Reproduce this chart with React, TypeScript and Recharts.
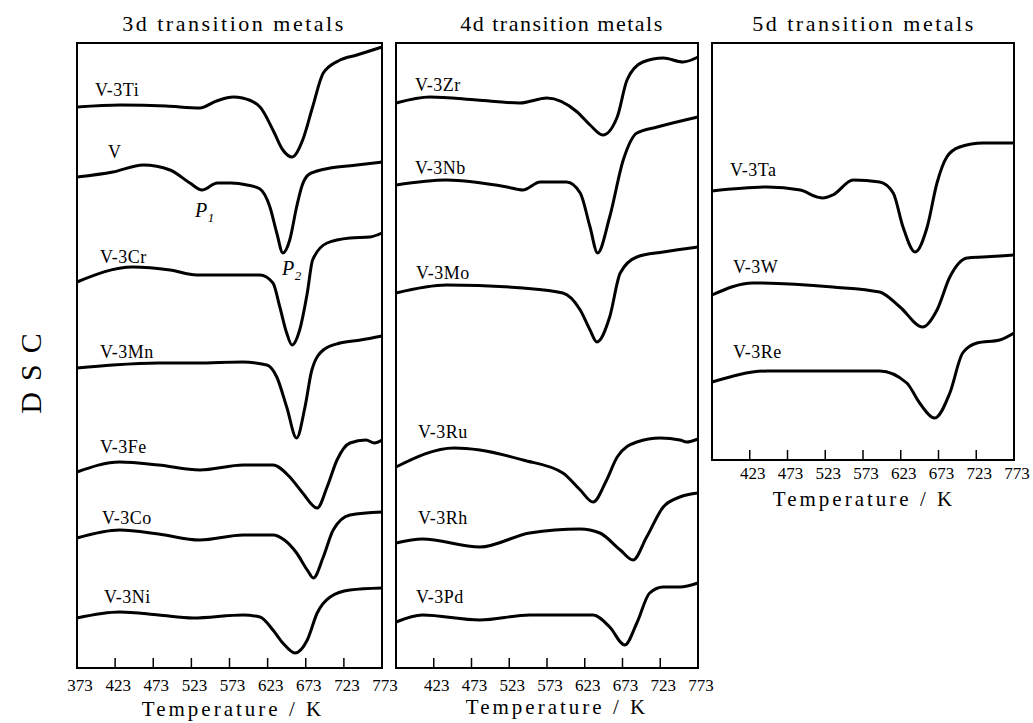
import React from "react"
import { LineChart, Line, XAxis, YAxis, ReferenceArea } from "recharts"

// temperature ticks (K)
const ticksFull = [373, 423, 473, 523, 573, 623, 673, 723, 773]
const ticksShort = [423, 473, 523, 573, 623, 673, 723, 773]

// DSC traces, arbitrary units (offset traces)
// 3d transition metals
const tTi = [373, 430, 490, 534, 556, 578, 590, 613, 630, 643, 655, 669, 682, 696, 718, 740, 773]
const dTi = [561, 563, 562, 560, 567, 571, 570, 561, 538, 518, 511, 528, 561, 595, 608, 613, 621]
const tV = [373, 420, 460, 495, 521, 537, 557, 575, 596, 613, 626, 635, 643, 652, 661, 668, 676, 688, 705, 740, 773]
const dV = [491, 496, 503, 498, 485, 478, 485, 485, 483, 479, 461, 435, 415, 428, 461, 482, 493, 497, 500, 503, 506]
const tCr = [373, 446, 495, 530, 613, 630, 639, 648, 655, 665, 675, 682, 701, 731, 757, 773]
const dCr = [386, 401, 398, 393, 393, 385, 361, 335, 323, 338, 375, 408, 425, 430, 431, 435]
const tMn = [373, 420, 480, 530, 590, 622, 635, 648, 661, 672, 681, 696, 718, 745, 773]
const dMn = [300, 303, 305, 305, 306, 303, 291, 261, 230, 261, 298, 318, 325, 328, 332]
const tFe = [373, 429, 480, 534, 591, 630, 652, 669, 688, 701, 714, 731, 752, 763, 773]
const dFe = [196, 206, 203, 198, 203, 203, 191, 175, 160, 181, 208, 225, 228, 225, 228]
const tCo = [373, 429, 480, 534, 591, 630, 645, 661, 675, 683, 696, 709, 731, 773]
const dCo = [130, 138, 134, 128, 133, 133, 128, 115, 98, 90, 111, 138, 153, 156]
const tNi = [373, 429, 480, 525, 591, 613, 630, 643, 659, 675, 688, 705, 731, 773]
const dNi = [50, 56, 53, 50, 53, 51, 38, 25, 15, 28, 55, 71, 78, 80]

// 4d transition metals
const tZr = [373, 418, 480, 537, 573, 613, 630, 647, 666, 679, 700, 727, 753, 773]
const dZr = [565, 571, 568, 565, 570, 556, 543, 533, 551, 588, 606, 610, 606, 611]
const tNb = [373, 440, 520, 541, 564, 599, 617, 630, 640, 656, 674, 692, 719, 773]
const dNb = [483, 488, 481, 478, 486, 486, 475, 441, 415, 451, 508, 535, 541, 551]
const tMo = [373, 440, 541, 594, 617, 630, 639, 656, 670, 692, 727, 773]
const dMo = [375, 383, 380, 375, 358, 338, 326, 351, 395, 411, 416, 421]
const tRu = [373, 450, 484, 541, 594, 617, 634, 652, 666, 692, 723, 749, 758, 773]
const dRu = [201, 220, 218, 208, 195, 178, 166, 188, 211, 226, 230, 228, 226, 229]
const tRh = [373, 408, 484, 550, 617, 643, 670, 687, 705, 727, 749, 773]
const dRh = [125, 129, 121, 135, 139, 135, 118, 108, 131, 161, 171, 175]
const tPd = [373, 408, 484, 550, 634, 656, 676, 692, 709, 727, 749, 773]
const dPd = [46, 53, 48, 53, 53, 41, 23, 45, 75, 81, 81, 85]

// 5d transition metals
const tTa = [373, 446, 490, 512, 520, 533, 560, 595, 613, 626, 642, 658, 671, 684, 701, 732, 773]
const dTa = [269, 273, 270, 263, 262, 265, 280, 278, 267, 233, 208, 233, 277, 303, 313, 317, 317]
const tW = [373, 427, 533, 595, 622, 652, 671, 688, 711, 732, 773]
const dW = [165, 177, 173, 168, 153, 133, 150, 183, 202, 203, 205]
const tRe = [373, 446, 595, 631, 648, 668, 688, 705, 724, 754, 773]
const dRe = [78, 89, 89, 77, 57, 42, 67, 107, 117, 120, 127]

const pts = (t: number[], d: number[]) => t.map((x, i) => ({ t: x, dsc: d[i] }))

const FONT = '"Liberation Serif", "Times New Roman", serif'

const InTick = (props: any) => {
  const { x, y, payload, dy } = props
  const v = payload.value
  return (
    <g>
      {v > 373 && v < 773 && <line x1={x} x2={x} y1={y} y2={y - 10} stroke="#000" strokeWidth={1.5} />}
      <text x={x + 3} y={y + dy} textAnchor="middle" fontFamily={FONT} fontSize={17} fill="#000">
        {v}
      </text>
    </g>
  )
}

const M = 5
const AXIS_H = 40

function Panel({ left, top, w, h, ymax, ticks, series, tickDy = 23 }: any) {
  return (
    <div style={{ position: "absolute", left: left - M, top: top - M }}>
      <LineChart width={w + 2 * M} height={h + 2 * M + AXIS_H} margin={{ top: M, right: M, bottom: M, left: M }}>
        <XAxis
          type="number"
          dataKey="t"
          domain={[373, 773]}
          ticks={ticks}
          tick={<InTick dy={tickDy} />}
          tickLine={false}
          tickSize={0}
          tickMargin={0}
          axisLine={false}
          height={AXIS_H}
          interval={0}
          allowDuplicatedCategory={false}
        />
        <YAxis type="number" domain={[0, ymax]} hide />
        <ReferenceArea x1={373} x2={773} y1={0} y2={ymax} fill="none" stroke="#000" strokeWidth={2} ifOverflow="visible" />
        {series.map((s: any, i: number) => (
          <Line
            key={i}
            data={s}
            dataKey="dsc"
            type="monotone"
            stroke="#000"
            strokeWidth={3}
            dot={false}
            activeDot={false}
            isAnimationActive={false}
          />
        ))}
      </LineChart>
    </div>
  )
}

function Txt({ x, y, size = 18, ls = 0.5, center = false, italic = false, children }: any) {
  return (
    <div
      style={{
        position: "absolute",
        left: x,
        top: y,
        transform: center ? "translate(-50%, -50%)" : "translateY(-50%)",
        fontFamily: FONT,
        fontSize: size,
        letterSpacing: ls,
        lineHeight: 1,
        whiteSpace: "nowrap",
        fontStyle: italic ? "italic" : "normal",
        color: "#000",
      }}
    >
      {children}
    </div>
  )
}

export default function App() {
  return (
    <div style={{ position: "absolute", left: 0, top: 0, width: 1033, height: 723, background: "#fff" }}>
      <style>{`.recharts-surface, .recharts-wrapper { overflow: visible !important; }`}</style>
      <Panel
        left={77}
        top={43}
        w={305}
        h={625}
        ymax={625}
        ticks={ticksFull}
        series={[pts(tTi, dTi), pts(tV, dV), pts(tCr, dCr), pts(tMn, dMn), pts(tFe, dFe), pts(tCo, dCo), pts(tNi, dNi)]}
      />
      <Panel
        left={396}
        top={43}
        w={302}
        h={625}
        ymax={625}
        ticks={ticksShort}
        series={[pts(tZr, dZr), pts(tNb, dNb), pts(tMo, dMo), pts(tRu, dRu), pts(tRh, dRh), pts(tPd, dPd)]}
      />
      <Panel
        left={712}
        top={43}
        w={302}
        h={417}
        ymax={417}
        ticks={ticksShort}
        tickDy={19}
        series={[pts(tTa, dTa), pts(tW, dW), pts(tRe, dRe)]}
      />

      <Txt x={234} y={24} size={22} ls={2.5} center>3d transition metals</Txt>
      <Txt x={562} y={24} size={22} ls={1.5} center>4d transition metals</Txt>
      <Txt x={864} y={24} size={22} ls={2.5} center>5d transition metals</Txt>

      <Txt x={233} y={709} size={21} ls={3} center>Temperature / K</Txt>
      <Txt x={557} y={707} size={21} ls={3} center>Temperature / K</Txt>
      <Txt x={864} y={499} size={21} ls={3} center>Temperature / K</Txt>

      <div
        style={{
          position: "absolute",
          left: 31,
          top: 368,
          transform: "translate(-50%, -50%) rotate(-90deg)",
          fontFamily: FONT,
          fontSize: 30,
          letterSpacing: 11,
          lineHeight: 1,
          whiteSpace: "nowrap",
        }}
      >
        DSC
      </div>

      <Txt x={95} y={90}>V-3Ti</Txt>
      <Txt x={108} y={152}>V</Txt>
      <Txt x={100} y={257}>V-3Cr</Txt>
      <Txt x={100} y={352}>V-3Mn</Txt>
      <Txt x={100} y={447}>V-3Fe</Txt>
      <Txt x={102} y={518}>V-3Co</Txt>
      <Txt x={104} y={597}>V-3Ni</Txt>

      <Txt x={195} y={212} size={20} italic>
        P<sub style={{ fontSize: 13 }}>1</sub>
      </Txt>
      <Txt x={282} y={270} size={20} italic>
        P<sub style={{ fontSize: 13 }}>2</sub>
      </Txt>

      <Txt x={415} y={85}>V-3Zr</Txt>
      <Txt x={415} y={168}>V-3Nb</Txt>
      <Txt x={416} y={273}>V-3Mo</Txt>
      <Txt x={418} y={432}>V-3Ru</Txt>
      <Txt x={418} y={518}>V-3Rh</Txt>
      <Txt x={416} y={597}>V-3Pd</Txt>

      <Txt x={730} y={170}>V-3Ta</Txt>
      <Txt x={733} y={267}>V-3W</Txt>
      <Txt x={733} y={352}>V-3Re</Txt>
    </div>
  )
}
